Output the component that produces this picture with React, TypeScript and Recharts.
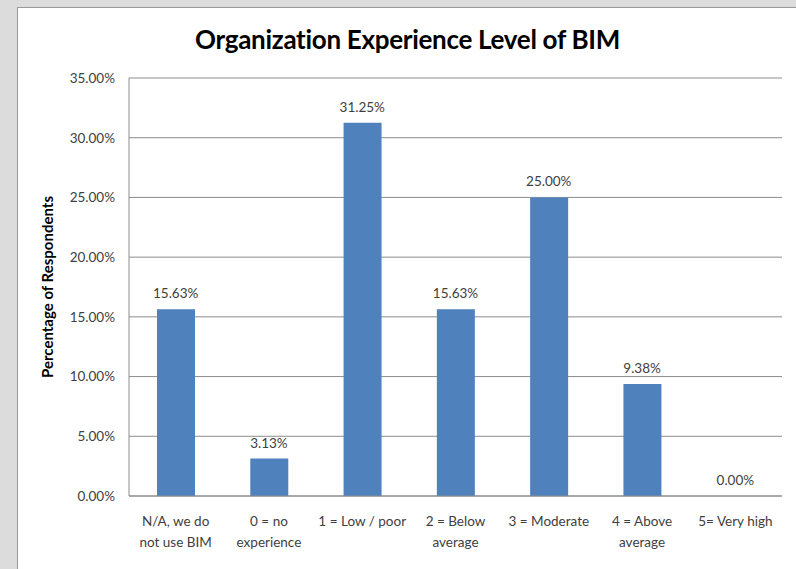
import React from 'react';
import { ComposedChart, Bar, Line, XAxis, YAxis, CartesianGrid, LabelList } from 'recharts';

const categories = [
  'N/A, we do|not use BIM',
  '0 = no|experience',
  '1 = Low / poor',
  '2 = Below|average',
  '3 = Moderate',
  '4 = Above|average',
  '5= Very high',
];
const values = [0.1563, 0.0313, 0.3125, 0.1563, 0.25, 0.0938, 0];
const yTicks = [0, 0.05, 0.1, 0.15, 0.2, 0.25, 0.3, 0.35];

const data = categories.map((c, i) => ({ name: c, value: values[i] }));

const FONT = 'Lato, "Open Sans", sans-serif';
const fmt = (v: number) => (v * 100).toFixed(2) + '%';

const XTick = (props: any) => {
  const { x, y, payload } = props;
  const lines = String(payload.value).split('|');
  return (
    <g transform={`translate(${x},${y})`}>
      {lines.map((l: string, i: number) => (
        <text key={i} x={0} y={0} dy={22 + i * 21} textAnchor="middle" fill="#404040" fontSize={13.5} fontFamily={FONT}>
          {l}
        </text>
      ))}
    </g>
  );
};

export default function App() {
  return (
    <div style={{ position: 'absolute', left: 0, top: 0, width: 796, height: 569, background: '#dcdcdc', overflow: 'hidden' }}>
      <div style={{ position: 'absolute', left: 17, top: 7, width: 779, height: 562, background: '#fff', borderLeft: '1px solid #9a9a9a', borderTop: '1px solid #9a9a9a', boxSizing: 'border-box' }}>
        <div style={{ position: 'absolute', left: 0, top: 15, width: 779, textAlign: 'center', fontFamily: FONT, fontWeight: 700, fontSize: 26, color: '#000', letterSpacing: -0.3 }}>
          Organization Experience Level of BIM
        </div>
        <div style={{ position: 'absolute', left: 29, top: 279, width: 0, height: 0 }}>
          <div style={{ position: 'absolute', transform: 'translate(-50%, -50%) rotate(-90deg)', whiteSpace: 'nowrap', fontFamily: FONT, fontWeight: 700, fontSize: 15, color: '#000' }}>
            Percentage of Respondents
          </div>
        </div>
        <div style={{ position: 'absolute', left: 0, top: 0 }}>
          <ComposedChart width={778} height={561} data={data} margin={{ top: 70, right: 14, bottom: 43, left: 50 }}>
            <CartesianGrid vertical={false} stroke="#8c8c8c" strokeWidth={1} />
            <XAxis dataKey="name" tick={<XTick />} tickLine={false} axisLine={{ stroke: '#8c8c8c' }} interval={0} />
            <YAxis
              width={61}
              domain={[0, 0.35]}
              ticks={yTicks}
              tickFormatter={fmt}
              tickLine={false}
              axisLine={{ stroke: '#8c8c8c' }}
              tick={{ fill: '#404040', fontSize: 13.5, fontFamily: FONT }}
              tickMargin={8}
            />
            <Bar dataKey="value" fill="#4f81bd" barSize={38} isAnimationActive={false} />
            <Line dataKey="value" stroke="none" dot={false} activeDot={false} isAnimationActive={false}>
              <LabelList dataKey="value" position="top" offset={11} formatter={(v: any) => fmt(Number(v))} fill="#404040" fontSize={13.5} fontFamily={FONT} />
            </Line>
          </ComposedChart>
        </div>
      </div>
    </div>
  );
}
